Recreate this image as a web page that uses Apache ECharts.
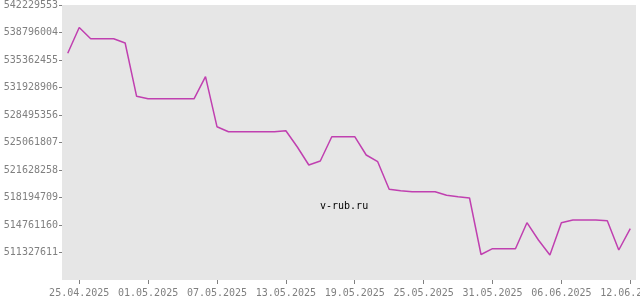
<!DOCTYPE html>
<html>
<head>
<meta charset="utf-8">
<script src="https://cdn.jsdelivr.net/npm/echarts@6/dist/echarts.min.js"></script>
<style>html,body{margin:0;padding:0;background:#fff}#c{width:640px;height:300px}</style>
</head>
<body>
<div id="c"></div>
<script>
var categories = [
 "24.04.2025","25.04.2025","26.04.2025","27.04.2025","28.04.2025","29.04.2025","30.04.2025",
 "01.05.2025","02.05.2025","03.05.2025","04.05.2025","05.05.2025","06.05.2025","07.05.2025",
 "08.05.2025","09.05.2025","10.05.2025","11.05.2025","12.05.2025","13.05.2025","14.05.2025",
 "15.05.2025","16.05.2025","17.05.2025","18.05.2025","19.05.2025","20.05.2025","21.05.2025",
 "22.05.2025","23.05.2025","24.05.2025","25.05.2025","26.05.2025","27.05.2025","28.05.2025",
 "29.05.2025","30.05.2025","31.05.2025","01.06.2025","02.06.2025","03.06.2025","04.06.2025",
 "05.06.2025","06.06.2025","07.06.2025","08.06.2025","09.06.2025","10.06.2025","11.06.2025",
 "12.06.2025"
];
var values = [
 536198994, 539420286, 538021896, 538021896, 538021896, 537485014, 530830000,
 530518032, 530518032, 530518032, 530518032, 530518032, 533277356, 527034541,
 526410260, 526410260, 526410260, 526410260, 526410260, 526535116, 524499958,
 522252545, 522751970, 525785979, 525785979, 525785979, 523501108, 522664571,
 519218537, 519043738, 518918881, 518918881, 518918881, 518469399, 518294600,
 518132287, 511077906, 511802073, 511802073, 511802073, 515048337, 512888322,
 511015478, 515048337, 515385448, 515385448, 515385448, 515298049, 511639759,
 514299199
];
var yTickLabels = [511327611, 514761160, 518194709, 521628258, 525061807,
                   528495356, 531928906, 535362455, 538796004, 542229553];
var yMin = 507894062, yMax = 542229553;

var chart = echarts.init(document.getElementById('c'), null, {renderer: 'canvas'});
var font = 'DejaVu Sans Mono';
var showIdx = function (idx) { return (idx - 1) % 6 === 0; };
chart.setOption({
  animation: false,
  grid: {left: 62, right: 4, top: 5, bottom: 20, show: true, backgroundColor: '#e6e6e6', borderWidth: 0,
         containLabel: false, outerBoundsMode: 'none'},
  xAxis: {
    type: 'category',
    data: categories,
    boundaryGap: true,
    axisLine: {show: false},
    axisTick: {show: true, alignWithLabel: true, interval: showIdx, length: 4, lineStyle: {color: '#808080'}},
    axisLabel: {interval: showIdx, margin: 8, color: '#808080', fontFamily: font, fontSize: 10, hideOverlap: false},
    splitLine: {show: false}
  },
  yAxis: {
    type: 'value',
    min: yMin, max: yMax,
    axisLine: {show: false},
    axisTick: {show: true, length: 3, customValues: yTickLabels, lineStyle: {color: '#808080'}},
    axisLabel: {customValues: yTickLabels, margin: 4, color: '#808080', fontFamily: font, fontSize: 10,
                formatter: function (v) { return String(Math.round(v)); }},
    splitLine: {show: false}
  },
  graphic: [{
    type: 'text', left: 320, top: 201,
    style: {text: 'v-rub.ru', fill: '#000', font: '10px "DejaVu Sans Mono"'}
  }],
  series: [{
    type: 'line',
    data: values,
    showSymbol: false,
    symbol: 'none',
    lineStyle: {color: '#c040b0', width: 1.5},
    z: 3
  }]
});
</script>
</body>
</html>
